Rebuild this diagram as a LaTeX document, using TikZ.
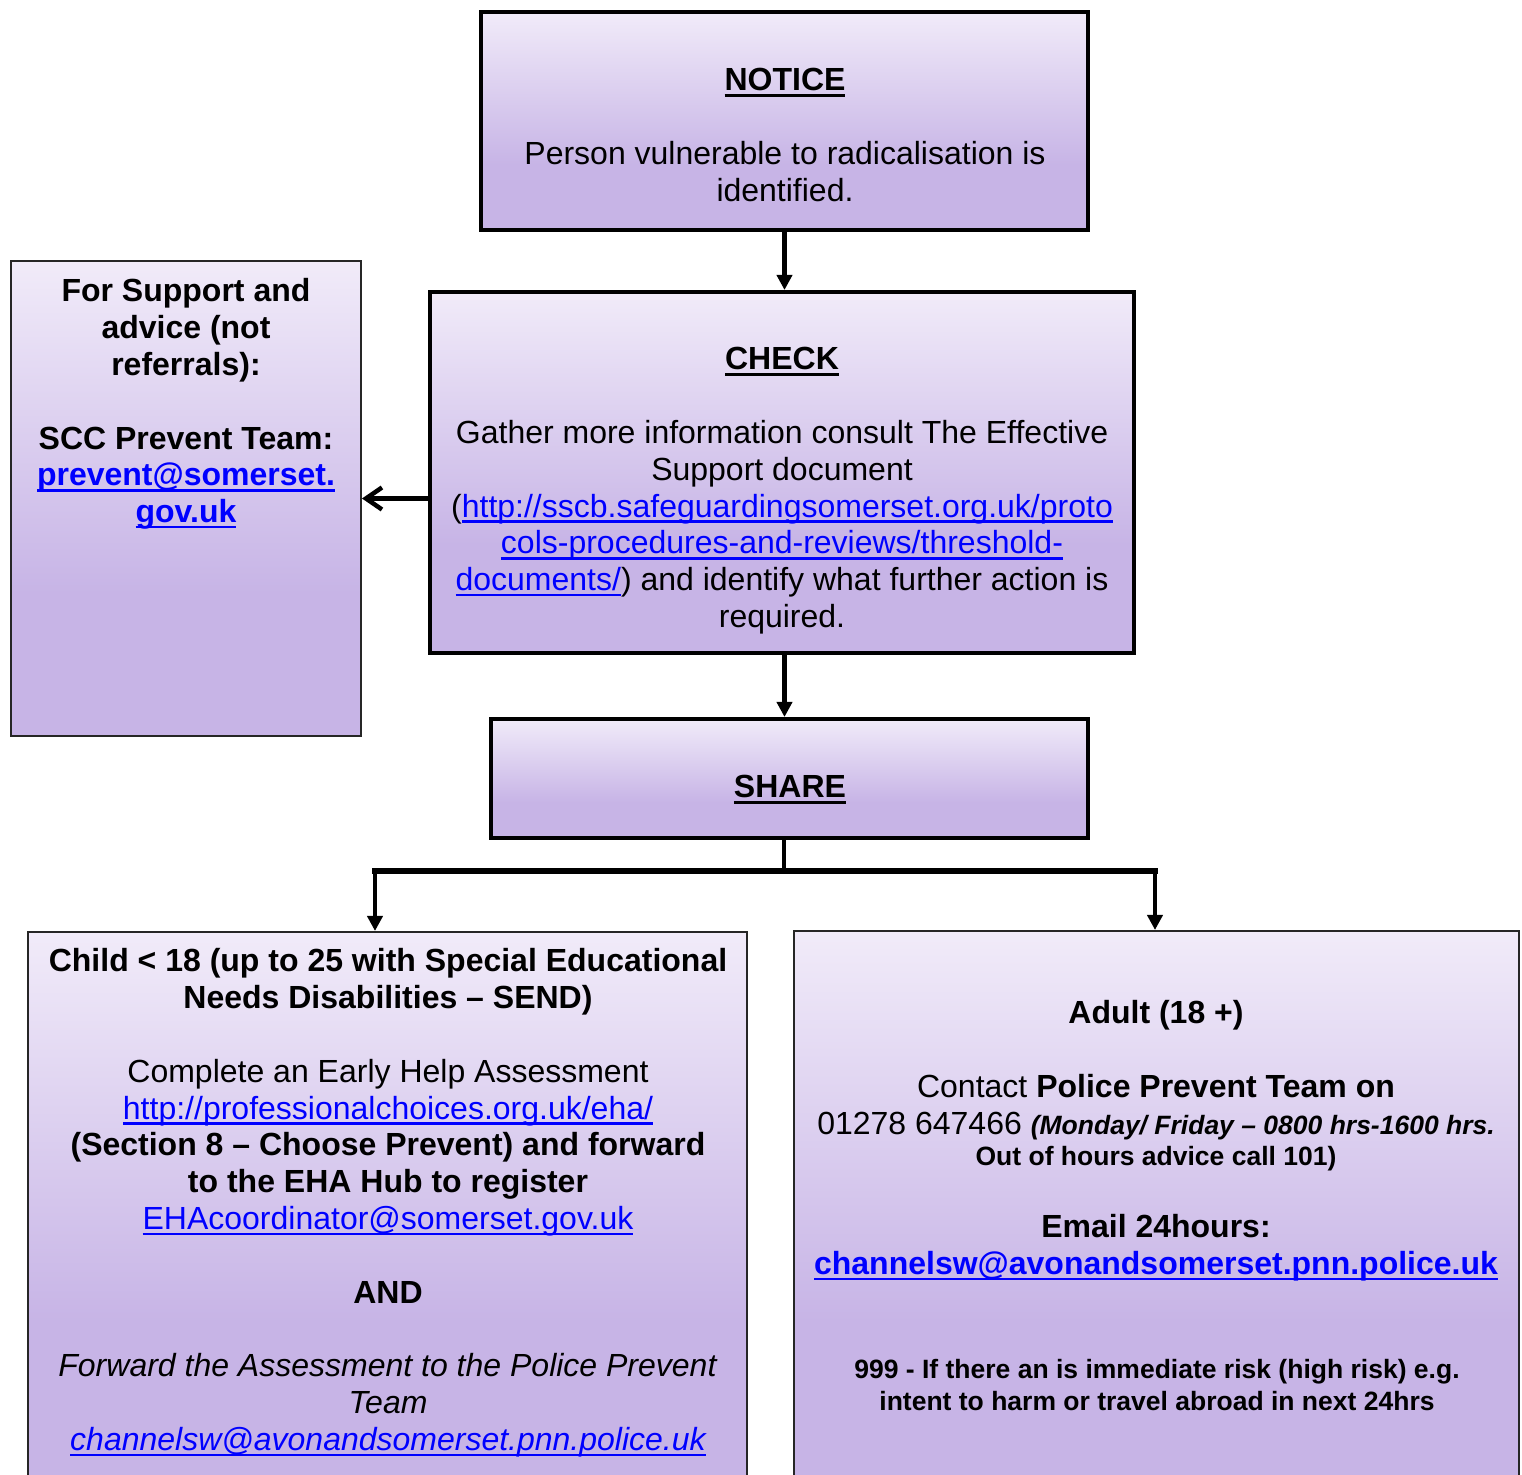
\documentclass[tikz,border=0pt]{standalone}
\usepackage{fontspec}
\setmainfont{Liberation Sans}
\usetikzlibrary{arrows.meta}

\definecolor{lavlight}{RGB}{241,235,249}
\definecolor{lavdark}{RGB}{199,180,230}
\definecolor{linkblue}{RGB}{0,0,255}
\pgfdeclareverticalshading{lavfade}{100bp}{color(0bp)=(lavdark); color(25bp)=(lavdark); color(40bp)=(lavdark); color(75bp)=(lavlight); color(100bp)=(lavlight)}

\newsavebox{\undlbox}
\newcommand{\undl}[1]{\sbox\undlbox{#1}\rlap{\rule[-2.9pt]{\wd\undlbox}{1.2pt}}\usebox\undlbox}
\newcommand{\lnk}[1]{\textcolor{linkblue}{\undl{#1}}}

\begin{document}
\begin{tikzpicture}[x=0.5pt, y=-0.5pt,
    stage/.style={draw, line width=2pt, shade, shading=lavfade, inner sep=0pt},
    panel/.style={draw=black!85, line width=1pt, shade, shading=lavfade, inner sep=0pt},
    txt/.style={anchor=north, align=center, inner sep=0pt, font=\fontsize{16}{18.4}\selectfont},
    small/.style={anchor=north, align=center, inner sep=0pt, font=\fontsize{13.25}{16}\selectfont\bfseries},
    flow/.style={line width=2.25pt, -{Triangle[length=7.5pt,width=7.5pt]}},
    back/.style={line width=2.25pt, -{Straight Barb[length=8pt,width=11pt]}}]
    \fill[white] (0,0) rectangle (1522,1475);
    \useasboundingbox (0,0) rectangle (1522,1475);

    % boxes
    \node[stage, minimum width=303.5pt, minimum height=109pt] (notice) at (784.5,121) {};
    \node[stage, minimum width=352pt, minimum height=180.5pt] (check) at (782,472.5) {};
    \node[stage, minimum width=298.5pt, minimum height=59.5pt] (share) at (789.5,778.5) {};
    \node[panel, minimum width=175pt, minimum height=237.5pt] (scc) at (186,498.5) {};
    \node[panel, minimum width=359.5pt, minimum height=279pt] (child) at (387.5,1211) {};
    \node[panel, minimum width=362.5pt, minimum height=279.5pt] (adult) at (1156.5,1210.5) {};

    % texts
    \node[txt] (noticetxt) at (785,64.7) {\strut\textbf{\undl{NOTICE}}\\ \\ Person vulnerable to radicalisation is\\ identified.};
    \node[txt] (checktxt) at (782,343.7) {\strut\textbf{\undl{CHECK}}\\ \\ Gather more information consult The Effective\\ Support document\\ (\lnk{http://sscb.safeguardingsomerset.org.uk/proto}\\ \lnk{cols-procedures-and-reviews/threshold-}\\ \lnk{documents/}) and identify what further action is\\ required.};
    \node[txt] (scctxt) at (186,275.7) {\strut\textbf{For Support and}\\ \textbf{advice (not}\\ \textbf{referrals):}\\ \\ \textbf{SCC Prevent Team:}\\ \textbf{\lnk{prevent@somerset.}}\\ \textbf{\lnk{gov.uk}}};
    \node[txt] (sharetxt) at (790,771.7) {\strut\textbf{\undl{SHARE}}};
    \node[txt] (childtxt) at (388,945.7) {\strut\textbf{Child < 18 (up to 25 with Special Educational}\\ \textbf{Needs Disabilities -- SEND)}\\ \\ Complete an Early Help Assessment\\ \lnk{http://professionalchoices.org.uk/eha/}\\ \textbf{(Section 8 -- Choose Prevent) and forward}\\ \textbf{to the EHA Hub to register}\\ \lnk{EHAcoordinator@somerset.gov.uk}\\ \\ \textbf{AND}\\ \\ \textit{Forward the Assessment to the Police Prevent}\\ \textit{Team}\\ \textit{\lnk{channelsw@avonandsomerset.pnn.police.uk}}};
    \node[txt] (adulthead) at (1156,997.7) {\strut\textbf{Adult (18 +)}\\ \\ Contact \textbf{Police Prevent Team on}\\ 01278 647466 {\fontsize{13.25}{16}\selectfont\bfseries\itshape (Monday/ Friday -- 0800 hrs-1600 hrs.}};
    \node[small] (adultcall) at (1156,1143.1) {\strut Out of hours advice call 101)};
    \node[txt] (adultmail) at (1156,1211.7) {\strut\textbf{Email 24hours:}\\ \textbf{\lnk{channelsw@avonandsomerset.pnn.police.uk}}};
    \node[small] (adultrisk) at (1157,1356.1) {\strut 999 - If there an is immediate risk (high risk) e.g.\\ intent to harm or travel abroad in next 24hrs};

    % connectors
    \coordinate (split) at (784,871);
    \coordinate (splitL) at (375,871);
    \coordinate (splitR) at (1155,871);
    \draw[flow] (notice.south) -- (notice.south |- check.north);
    \draw[flow] (check.south -| notice.south) -- (share.north -| notice.south);
    \draw[back] (scc.east -| check.west) -- (scc.east);
    \draw[line width=2.25pt] (share.south -| split) -- (split);
    \draw[line width=2.75pt, line cap=rect] (splitL) -- (splitR);
    \draw[flow] (splitL) -- (splitL |- child.north);
    \draw[flow] (splitR) -- (splitR |- adult.north);
\end{tikzpicture}
\end{document}
